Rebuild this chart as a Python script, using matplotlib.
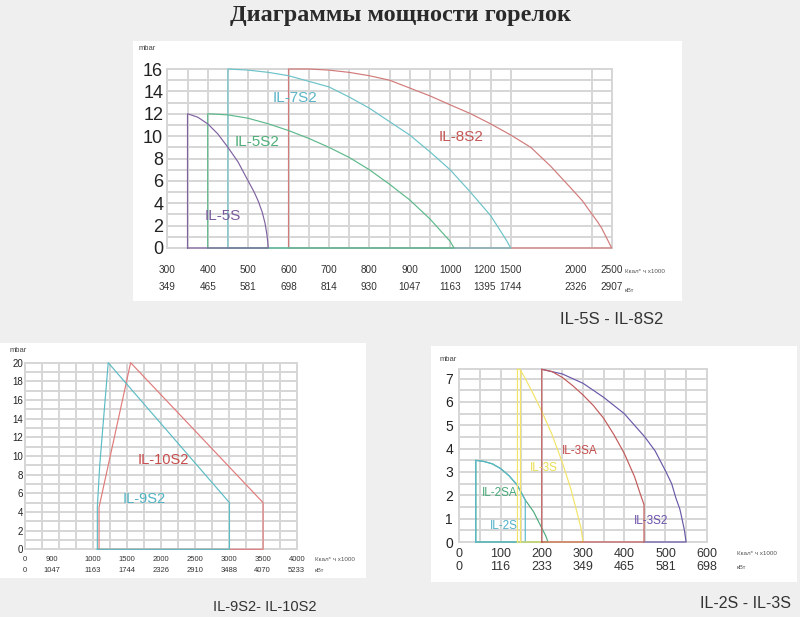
import numpy as np
import matplotlib.pyplot as plt
from matplotlib.patches import Rectangle

plt.rcParams['font.family'] = ['Liberation Sans', 'DejaVu Sans']

# ---- top chart: IL-5S ... IL-8S2 (kcal/h x1000 vs mbar)
TOP_KCAL = [300, 400, 500, 600, 700, 800, 900, 1000, 1200, 1500, 2000, 2500]
TOP_KW = [349, 465, 581, 698, 814, 930, 1047, 1163, 1395, 1744, 2326, 2907]
# printed axis is not linear: grid column where each kcal value sits
TOP_SCALE_KCAL = [300, 1000, 1200, 1500, 2000, 2500]
TOP_SCALE_COL = [0, 14, 15.7, 17, 20.2, 22]

il5s_x = [350, 350, 375, 400, 425, 450, 475, 500, 515, 525, 535, 542, 547, 550, 350]
il5s_y = [0, 12, 11.7, 11.1, 10.2, 9.0, 7.7, 6.0, 5.0, 4.2, 3.2, 2.2, 1.1, 0, 0]
il5s2_x = [400, 400, 450, 500, 550, 600, 650, 700, 750, 800, 850, 900, 950, 975, 1000, 1023, 400]
il5s2_y = [0, 12, 11.9, 11.6, 11.1, 10.5, 9.8, 9.0, 8.1, 7.0, 5.7, 4.3, 2.6, 1.6, 0.6, 0, 0]
il7s2_x = [450, 450, 500, 550, 600, 650, 700, 750, 800, 850, 900, 950, 1000, 1118, 1270, 1385, 1450, 1500, 450]
il7s2_y = [0, 16, 15.9, 15.7, 15.4, 14.9, 14.4, 13.5, 12.5, 11.3, 10.1, 8.6, 7.0, 5.0, 2.9, 1.5, 0.7, 0, 0]
il8s2_x = [600, 600, 650, 700, 750, 800, 850, 900, 950, 1000, 1120, 1270, 1500, 1655, 1810, 1970,
           2100, 2220, 2300, 2360, 2430, 2500, 600]
il8s2_y = [0, 16, 16, 15.9, 15.7, 15.4, 15.0, 14.3, 13.6, 12.8, 12.0, 11.1, 10.1, 9.0, 7.3, 5.3,
           4.2, 3.1, 2.4, 1.8, 0.9, 0, 0]

# ---- bottom left: IL-9S2, IL-10S2
BL_TICK_AT = [0, 400, 1000, 1500, 2000, 2500, 3000, 3500, 4000]
BL_KCAL_TXT = ['0', '900', '1000', '1500', '2000', '2500', '3000', '3500', '4000']
BL_KW_TXT = ['0', '1047', '1163', '1744', '2326', '2910', '3488', '4070', '5233']
il9s2_x = [1065, 1065, 1100, 1225, 3010, 3010, 1065]
il9s2_y = [0, 4.5, 9, 20, 5, 0, 0]
il10s2_x = [1090, 1090, 1555, 3505, 3505, 1090]
il10s2_y = [0, 4.5, 20, 5, 0, 0]

# ---- bottom right: IL-2S ... IL-3S2
BR_KCAL = [0, 100, 200, 300, 400, 500, 600]
BR_KW = [0, 116, 233, 349, 465, 581, 698]
il2sa_x = [40, 40, 60, 80, 100, 120, 140, 160, 180, 200, 210, 215, 40]
il2sa_y = [0, 3.5, 3.45, 3.35, 3.15, 2.85, 2.45, 1.8, 1.3, 0.6, 0.25, 0, 0]
il2s_x = [40, 40, 60, 80, 100, 120, 140, 160, 160, 40]
il2s_y = [0, 3.5, 3.45, 3.35, 3.15, 2.85, 2.45, 1.8, 0, 0]
il3s_x = [141, 141, 147, 160, 175, 200, 225, 250, 270, 285, 295, 300, 141]
il3s_y = [0, 7.4, 7.4, 7.0, 6.5, 5.6, 4.6, 3.4, 2.3, 1.3, 0.6, 0, 0]
il3s_edge_x = [147, 147]
il3s_edge_y = [0, 7.4]
il3sa_x = [200, 200, 225, 250, 275, 300, 325, 350, 375, 400, 425, 440, 448, 448, 200]
il3sa_y = [0, 7.4, 7.3, 7.05, 6.7, 6.3, 5.85, 5.3, 4.6, 3.8, 2.8, 2.0, 1.6, 0, 0]
il3s2_x = [200, 250, 300, 350, 400, 450, 475, 500, 515, 525, 535, 540, 546, 550, 448]
il3s2_y = [7.4, 7.2, 6.8, 6.2, 5.5, 4.5, 3.9, 3.05, 2.5, 1.9, 1.4, 1.0, 0.5, 0, 0]

GRID = '#d6d6d6'
W, H = 800, 617

fig = plt.figure(figsize=(8, 6.17), dpi=100, facecolor='#efefef')


def px_rect(x0, y0, x1, y1):
    return [x0 / W, 1 - y1 / H, (x1 - x0) / W, (y1 - y0) / H]


# white cards behind each chart
for r in [(133, 41, 682, 301), (0, 343, 366, 578), (431, 346, 797, 582)]:
    x, y, w, h = px_rect(*r)
    fig.patches.append(Rectangle((x, y), w, h, transform=fig.transFigure,
                                 facecolor='white', edgecolor='none', zorder=-5))


def style(ax, xgrid, ygrid, ymajor, yfs, ypad):
    ax.set_facecolor('white')
    ax.set_xticks([])
    ax.set_xticks(xgrid, minor=True)
    ax.set_yticks(ymajor)
    ax.set_yticks(ygrid, minor=True)
    ax.grid(which='both', color=GRID, lw=1.4)
    ax.set_axisbelow(True)
    ax.tick_params(which='both', length=0)
    ax.tick_params(axis='y', labelsize=yfs, pad=ypad, labelcolor='#222')
    for s in ax.spines.values():
        s.set_color(GRID)
        s.set_linewidth(1.4)


def curve(ax, x, y, color):
    ax.plot(x, y, color=color, lw=0.85, clip_on=False, solid_joinstyle='round', zorder=3)


def two_rows(ax, at, row1, row2, y1, y2, fs):
    tr = ax.get_xaxis_transform()
    for x, a, b in zip(at, row1, row2):
        ax.text(x, y1, a, transform=tr, ha='center', va='center', fontsize=fs, color='#333')
        ax.text(x, y2, b, transform=tr, ha='center', va='center', fontsize=fs, color='#333')


def units(ax, x, y1, y2):
    ax.text(x, y1, 'Ккал* ч х1000', transform=ax.transAxes, ha='left', va='center',
            fontsize=4.5, color='#555')
    ax.text(x, y2, 'кВт', transform=ax.transAxes, ha='left', va='center',
            fontsize=4.5, color='#555')


# ---------------- top chart
ax1 = fig.add_axes([167.3 / W, 1 - 248 / H, 444.4 / W, 179 / H])


def fwd(v):
    return np.interp(v, TOP_SCALE_KCAL, TOP_SCALE_COL)


def inv(c):
    return np.interp(c, TOP_SCALE_COL, TOP_SCALE_KCAL)


ax1.set_xscale('function', functions=(fwd, inv))
grid_cols = list(range(18)) + [21, 22]
style(ax1, inv(np.array(grid_cols, float)), np.arange(0, 17), np.arange(0, 17, 2), 13, 3)
curve(ax1, il8s2_x, il8s2_y, '#d27a7a')
curve(ax1, il7s2_x, il7s2_y, '#6cc2c8')
curve(ax1, il5s2_x, il5s2_y, '#5cb98a')
curve(ax1, il5s_x, il5s_y, '#7f62a0')
ax1.set_xlim(300, 2500)
ax1.set_ylim(0, 16)
ax1.text(617, 13.45, 'IL-7S2', color='#5ab4c6', fontsize=11, ha='center', va='center')
ax1.text(522, 9.5, 'IL-5S2', color='#4fae78', fontsize=11, ha='center', va='center')
ax1.text(1066, 9.94, 'IL-8S2', color='#c45555', fontsize=11, ha='center', va='center')
ax1.text(438, 2.83, 'IL-5S', color='#7a5a9c', fontsize=11, ha='center', va='center')
ax1.text(-0.046, 1.117, 'mbar', transform=ax1.transAxes, ha='center', va='center',
         fontsize=5.5, color='#444')
two_rows(ax1, TOP_KCAL, [str(v) for v in TOP_KCAL], [str(v) for v in TOP_KW],
         -0.123, -0.218, 7.2)
units(ax1, 1.03, -0.134, -0.235)

# ---------------- bottom left
ax2 = fig.add_axes([25 / W, 1 - 549.3 / H, 271.7 / W, 186.6 / H])
style(ax2, np.arange(0, 4001, 250), np.arange(0, 21), np.arange(0, 21, 2), 7, 1.5)
curve(ax2, il10s2_x, il10s2_y, '#e07a7a')
curve(ax2, il9s2_x, il9s2_y, '#5cbcc4')
ax2.set_xlim(0, 4000)
ax2.set_ylim(0, 20)
ax2.text(2034, 9.6, 'IL-10S2', color='#c84c4c', fontsize=10.5, ha='center', va='center')
ax2.text(1753, 5.4, 'IL-9S2', color='#4fb2c2', fontsize=10.5, ha='center', va='center')
ax2.text(-0.026, 1.063, 'mbar', transform=ax2.transAxes, ha='center', va='center',
         fontsize=5.5, color='#444')
two_rows(ax2, BL_TICK_AT, BL_KCAL_TXT, BL_KW_TXT, -0.054, -0.116, 5.5)
units(ax2, 1.067, -0.054, -0.116)

# ---------------- bottom right
ax3 = fig.add_axes([459.3 / W, 1 - 542 / H, 247.4 / W, 172.7 / H])
style(ax3, np.arange(0, 601, 50), np.arange(0, 7.4, 0.5), np.arange(0, 8), 10, 4.5)
curve(ax3, il2sa_x, il2sa_y, '#4cab7c')
curve(ax3, il2s_x, il2s_y, '#5ab8cc')
curve(ax3, il3s_x, il3s_y, '#f2e468')
curve(ax3, il3s_edge_x, il3s_edge_y, '#f2e468')
curve(ax3, il3s2_x, il3s2_y, '#6a58a8')
curve(ax3, il3sa_x, il3sa_y, '#c25a5a')
ax3.set_xlim(0, 600)
ax3.set_ylim(0, 7.4)
ax3.text(293, 3.9, 'IL-3SA', color='#c44c4c', fontsize=8.5, ha='center', va='center')
ax3.text(206, 3.15, 'IL-3S', color='#e8dc50', fontsize=8.5, ha='center', va='center')
ax3.text(99, 2.1, 'IL-2SA', color='#4aa878', fontsize=8.5, ha='center', va='center')
ax3.text(109, 0.67, 'IL-2S', color='#50b0c8', fontsize=8.5, ha='center', va='center')
ax3.text(465, 0.89, 'IL-3S2', color='#6a50a8', fontsize=8.5, ha='center', va='center')
ax3.text(-0.046, 1.054, 'mbar', transform=ax3.transAxes, ha='center', va='center',
         fontsize=5.5, color='#444')
two_rows(ax3, BR_KCAL, [str(v) for v in BR_KCAL], [str(v) for v in BR_KW],
         -0.071, -0.143, 9)
units(ax3, 1.122, -0.064, -0.149)

# ---------------- titles
fig.text(0.5, 1 - 15 / H, 'Диаграммы мощности горелок', ha='center', va='center',
         fontsize=17.5, fontweight='bold', color='#2a2a2a',
         family=['Liberation Serif', 'DejaVu Serif'])
fig.text(611.7 / W, 1 - 320 / H, 'IL-5S - IL-8S2', ha='center', va='center',
         fontsize=12, color='#333')
fig.text(265 / W, 1 - 607 / H, 'IL-9S2- IL-10S2', ha='center', va='center',
         fontsize=10.5, color='#333')
fig.text(745 / W, 1 - 604 / H, 'IL-2S - IL-3S', ha='center', va='center',
         fontsize=11.5, color='#333')

fig.savefig('out.png', dpi=100, facecolor=fig.get_facecolor())
